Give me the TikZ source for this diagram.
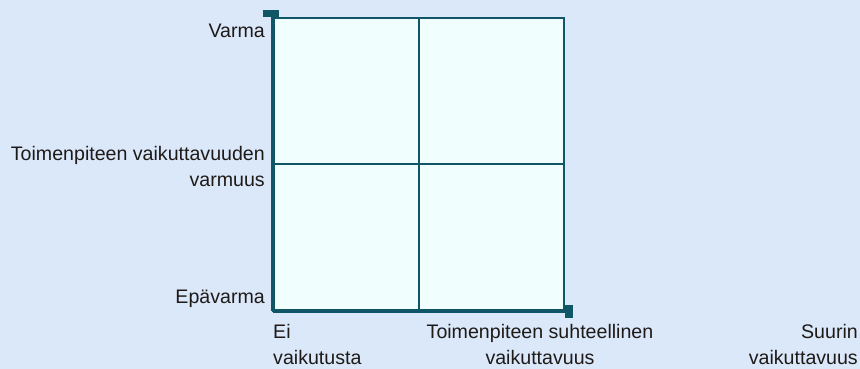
\documentclass[tikz,border=0pt]{standalone}
\usepackage{fontspec}
\setmainfont{Liberation Sans}
\usepackage{tikz}
\usetikzlibrary{positioning,calc}

\definecolor{bgblue}{RGB}{219,232,249}
\definecolor{cellfill}{RGB}{240,254,254}
\definecolor{axisteal}{RGB}{16,86,102}
\definecolor{labeltext}{RGB}{30,26,24}

\begin{document}
\begin{tikzpicture}[x=1pt,y=1pt,
  every node/.style={inner sep=0pt,text=labeltext,font=\fontsize{19.6}{26}\selectfont},
  gridline/.style={draw=axisteal,line width=2pt},
  axisline/.style={draw=axisteal,line width=4.5pt}]
\fill[bgblue] (0,0) rectangle (860,369);
\useasboundingbox (0,0) rectangle (860,369);
% corners of the matrix
\coordinate (sw) at (273,58);
\coordinate (ne) at (564,351);
\coordinate (nw) at (273,351);
\coordinate (se) at (564,58);
\coordinate (mid) at (419,205);
\fill[cellfill] (sw) rectangle (ne);
\draw[gridline] (sw) rectangle (ne);
\draw[gridline] (sw -| mid) -- (ne -| mid);
\draw[gridline] (sw |- mid) -- (ne |- mid);
% axes
\coordinate (ytop) at (273,357);
\coordinate (xend) at (568,58);
\draw[axisline] (sw) -- (ytop);
\draw[axisline] (sw) -- (xend);
\fill[axisteal] (263,352) rectangle (279,359);
\fill[axisteal] (565,51) rectangle (573,64);
% labels
\node[anchor=east] (varma) at (265,338) {Varma};
\node[anchor=east,align=right] (varmuus) at (265,202.5) {Toimenpiteen vaikuttavuuden\\varmuus};
\node[anchor=east] (epavarma) at (265,70) {Epävarma};
\node[anchor=north west,align=left] (ei) at (273,45) {Ei\\vaikutusta};
\node[anchor=north,align=center] (suht) at (540,45) {Toimenpiteen suhteellinen\\vaikuttavuus};
\node[anchor=north east,align=right] (suurin) at (858,45) {Suurin\\vaikuttavuus};
\end{tikzpicture}
\end{document}
